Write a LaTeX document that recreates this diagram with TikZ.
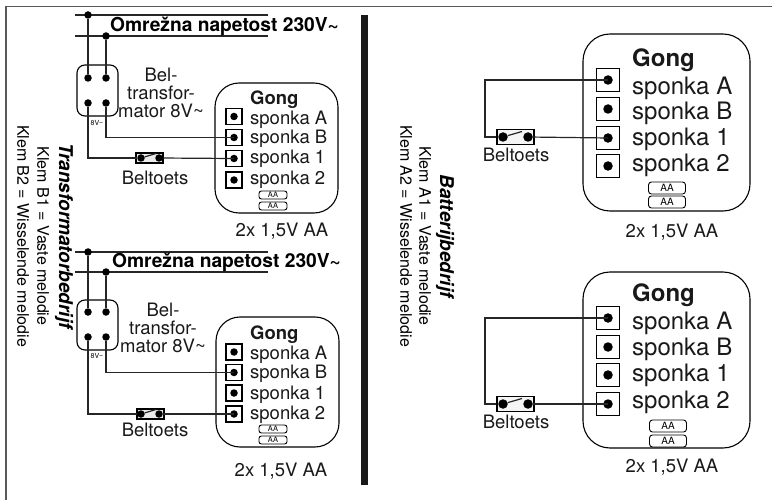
\documentclass[tikz,border=0pt]{standalone}
\usepackage{fontspec}
\setmainfont{TeX Gyre Heros}
\usepackage{tikz}
\usetikzlibrary{positioning}

\tikzset{
  wire/.style={line width=1.2pt,black!85},
  puntje/.style={circle,fill=black,inner sep=0pt,minimum size=#1},
  puntje/.default=7.5pt,
  kast/.style={draw,line width=1.1pt,rounded corners=24pt,inner sep=0pt},
  trafo/.style={draw,line width=1.1pt,rounded corners=8pt,inner sep=0pt,minimum width=41pt,minimum height=51pt},
  klem/.style={draw,line width=1.1pt,inner sep=0pt,minimum size=16pt},
  grootklem/.style={draw,line width=1.1pt,inner sep=0pt,minimum size=23pt},
  toets/.style={draw,line width=1.1pt,fill=black!8,inner sep=0pt,minimum width=27pt,minimum height=10pt},
  groottoets/.style={draw,line width=1.1pt,fill=black!4,inner sep=0pt,minimum width=37pt,minimum height=15pt},
  tekst/.style={inner sep=0pt,font=\fontsize{18.5}{18.2}\selectfont,text height=13.3pt,text depth=0pt,black!90},
  groottekst/.style={inner sep=0pt,font=\fontsize{24}{25}\selectfont,text height=17.3pt,text depth=0pt,black!90},
  titel/.style={tekst,font=\fontsize{18.5}{19}\bfseries\selectfont},
  groottitel/.style={groottekst,font=\fontsize{24}{25}\bfseries\selectfont},
  net/.style={inner sep=0pt,font=\fontsize{19.2}{20}\bfseries\selectfont},
  uitleg/.style={inner sep=0pt,rotate=-90,font=\fontsize{16}{17}\selectfont},
  uitlegtitel/.style={uitleg,font=\fontsize{19}{20}\bfseries\itshape\selectfont},
  batterij/.style={draw,line width=.9pt,rounded corners=2.5pt,inner sep=0pt,minimum width=28pt,minimum height=8pt,font=\fontsize{7.5}{8}\selectfont},
  grootbatterij/.style={draw,line width=.9pt,rounded corners=3pt,inner sep=0pt,minimum width=37pt,minimum height=12pt,font=\fontsize{10}{11}\selectfont},
  acht/.style={inner sep=0pt,font=\fontsize{7}{8}\selectfont}
}

\begin{document}
\begin{tikzpicture}[x=1pt,y=-1pt]
 \useasboundingbox (0,0) rectangle (772,500);

 % frame and middle bar
 \draw[line width=1.4pt,black!65] (6,500) -- (6,6.3) -- (772,6.3);
 \fill[black!90] (361,15) rectangle (367.5,485);

 % side texts
 \node[uitlegtitel] (TitelTrafo) at (64,236) {Transformatorbedrijf};
 \node[uitleg] (KlemBa) at (43,236) {Klem B1 = Vaste melodie};
 \node[uitleg] (KlemBb) at (23,236) {Klem B2 = Wisselende melodie};
 \node[uitlegtitel] (TitelBat) at (445,236) {Batterijbedrijf};
 \node[uitleg] (KlemAa) at (425,236) {Klem A1 = Vaste melodie};
 \node[uitleg] (KlemAb) at (406,236) {Klem A2 = Wisselende melodie};

 % transformer, top left
 \coordinate (NetAl) at (75,15);
 \coordinate (NetAr) at (268,15);
 \coordinate (NetBl) at (75,36);
 \coordinate (NetBr) at (268,36);
 \draw[wire] (NetAl) -- (NetAr);
 \draw[wire] (NetBl) -- (NetBr);
 \node[net,anchor=west] (NetEen) at (110,26) {Omrežna napetost 230V\textasciitilde};
 \node[trafo] (TrafoEen) at (97.5,90.5) {};
 \node[puntje] (NetEenA) at (88,15) {};
 \node[puntje] (NetEenB) at (106,36) {};
 \node[puntje] (TrafoEenA) at (88,78) {};
 \node[puntje] (TrafoEenB) at (106,78) {};
 \node[puntje] (TrafoEenC) at (88,103) {};
 \node[puntje] (TrafoEenD) at (106,103) {};
 \node[acht] (AchtVEen) at (97,123) {8V\textasciitilde};
 \node[tekst,align=center,text height=,text depth=] (BelEen) at (161,93) {Bel-\\transfor-\\mator 8V\textasciitilde};

 % gong, top left
 \node[kast,minimum width=123pt,minimum height=130pt] (GongEen) at (276.5,148) {};
 \node[titel,anchor=west] (GongEenT) at (250,97.5) {Gong};
 \foreach \naam/\tekst/\y/\ty in {A/sponka A/116.5/117.5,B/sponka B/137.5/137,C/sponka 1/158.5/157,D/sponka 2/180/178}{
  \node[klem] (GongEen\naam) at (234,\y) {};
  \node[puntje] at (GongEen\naam) {};
  \node[tekst,anchor=west] at (250,\ty) {\tekst};
 }
 \node[batterij] (BatEenA) at (273,195) {AA};
 \node[batterij] (BatEenB) at (273,206) {AA};
 \node[tekst] (AantalEen) at (282,230) {2x 1,5V AA};

 % push button, top left
 \node[toets] (ToetsEen) at (149.5,158) {};
 \node[puntje] (ToetsEenL) at (141,158) {};
 \node[puntje] (ToetsEenR) at (159,158) {};
 \draw[wire] (ToetsEenL) -- (156,153.5);
 \node[tekst] (BeltoetsEen) at (155,178) {Beltoets};

 \draw[wire] (NetEenA) -- (TrafoEenA);
 \draw[wire] (NetEenB) -- (TrafoEenB);
 \draw[wire] (TrafoEenD) |- (GongEenB.center);
 \draw[wire] (TrafoEenC) |- (ToetsEenL);
 \draw[wire] (ToetsEenR) -- (GongEenC.center);

 % transformer, bottom left
 \coordinate (NetCl) at (75,252);
 \coordinate (NetCr) at (268,252);
 \coordinate (NetDl) at (75,272);
 \coordinate (NetDr) at (268,272);
 \draw[wire] (NetCl) -- (NetCr);
 \draw[wire] (NetDl) -- (NetDr);
 \node[net,anchor=west] (NetTwee) at (112,262) {Omrežna napetost 230V\textasciitilde};
 \node[trafo,minimum height=50pt] (TrafoTwee) at (97.5,325) {};
 \node[puntje] (NetTweeA) at (88,252) {};
 \node[puntje] (NetTweeB) at (106,272) {};
 \node[puntje] (TrafoTweeA) at (88,312) {};
 \node[puntje] (TrafoTweeB) at (106,312) {};
 \node[puntje] (TrafoTweeC) at (88,337) {};
 \node[puntje] (TrafoTweeD) at (106,337) {};
 \node[acht] (AchtVTwee) at (97,356) {8V\textasciitilde};
 \node[tekst,align=center,text height=,text depth=] (BelTwee) at (163,328) {Bel-\\transfor-\\mator 8V\textasciitilde};

 % gong, bottom left
 \node[kast,minimum width=123pt,minimum height=130pt] (GongTwee) at (277.5,382) {};
 \node[titel,anchor=west] (GongTweeT) at (250,332.5) {Gong};
 \foreach \naam/\tekst/\y/\ty in {A/sponka A/352/353,B/sponka B/372.5/372,C/sponka 1/393/393,D/sponka 2/414/413}{
  \node[klem] (GongTwee\naam) at (234,\y) {};
  \node[puntje] at (GongTwee\naam) {};
  \node[tekst,anchor=west] at (250,\ty) {\tekst};
 }
 \node[batterij] (BatTweeA) at (273,429) {AA};
 \node[batterij] (BatTweeB) at (273,440) {AA};
 \node[tekst] (AantalTwee) at (281,470) {2x 1,5V AA};

 % push button, bottom left
 \node[toets] (ToetsTwee) at (150.5,414) {};
 \node[puntje] (ToetsTweeL) at (141,414) {};
 \node[puntje] (ToetsTweeR) at (159,414) {};
 \draw[wire] (ToetsTweeL) -- (156,409.5);
 \node[tekst] (BeltoetsTwee) at (155,430) {Beltoets};

 \draw[wire] (NetTweeA) -- (TrafoTweeA);
 \draw[wire] (NetTweeB) -- (TrafoTweeB);
 \draw[wire] (TrafoTweeD) |- (GongTweeB.center);
 \draw[wire] (TrafoTweeC) |- (ToetsTweeL);
 \draw[wire] (ToetsTweeR) -- (GongTweeD.center);

 % gong, top right
 \node[kast,rounded corners=27pt,minimum width=167pt,minimum height=177pt] (GongDrie) at (666.5,122.5) {};
 \node[groottitel,anchor=west] (GongDrieT) at (632,58) {Gong};
 \foreach \naam/\tekst/\y/\ty in {A/sponka A/80/86,B/sponka B/109/111,C/sponka 1/138/137,D/sponka 2/166/163}{
  \node[grootklem] (GongDrie\naam) at (608,\y) {};
  \node[puntje=9.5pt] at (GongDrie\naam) {};
  \node[groottekst,anchor=west] at (632,\ty) {\tekst};
 }
 \node[grootbatterij] (BatDrieA) at (667,188) {AA};
 \node[grootbatterij] (BatDrieB) at (667,202) {AA};
 \node[tekst] (AantalDrie) at (672,231) {2x 1,5V AA};

 % push button, top right
 \node[groottoets] (ToetsDrie) at (515.5,137) {};
 \node[puntje=9.5pt] (ToetsDrieL) at (503,137) {};
 \node[puntje=9.5pt] (ToetsDrieR) at (528,137) {};
 \draw[wire] (ToetsDrieL) -- (522,131.5);
 \node[tekst] (BeltoetsDrie) at (516,155) {Beltoets};

 \coordinate (BochtDrie) at (485,137);
 \draw[wire] (GongDrieA.center) -| (BochtDrie) -- (ToetsDrie.west);
 \draw[wire] (ToetsDrieR) -- (GongDrieC.center);

 % gong, bottom right
 \node[kast,rounded corners=27pt,minimum width=167pt,minimum height=176pt] (GongVier) at (666.5,360) {};
 \node[groottitel,anchor=west] (GongVierT) at (632,293) {Gong};
 \foreach \naam/\tekst/\y/\ty in {A/sponka A/318/321,B/sponka B/347/347,C/sponka 1/375/373,D/sponka 2/404/400}{
  \node[grootklem] (GongVier\naam) at (608,\y) {};
  \node[puntje=9.5pt] at (GongVier\naam) {};
  \node[groottekst,anchor=west] at (632,\ty) {\tekst};
 }
 \node[grootbatterij] (BatVierA) at (668,426) {AA};
 \node[grootbatterij] (BatVierB) at (668,441) {AA};
 \node[tekst] (AantalVier) at (672,466) {2x 1,5V AA};

 % push button, bottom right
 \node[groottoets] (ToetsVier) at (515.5,404) {};
 \node[puntje=9.5pt] (ToetsVierL) at (503,404) {};
 \node[puntje=9.5pt] (ToetsVierR) at (528,404) {};
 \draw[wire] (ToetsVierL) -- (522,398.5);
 \node[tekst] (BeltoetsVier) at (516,422) {Beltoets};

 \coordinate (BochtVier) at (485,404);
 \draw[wire] (GongVierA.center) -| (BochtVier) -- (ToetsVier.west);
 \draw[wire] (ToetsVierR) -- (GongVierD.center);

\end{tikzpicture}
\end{document}
